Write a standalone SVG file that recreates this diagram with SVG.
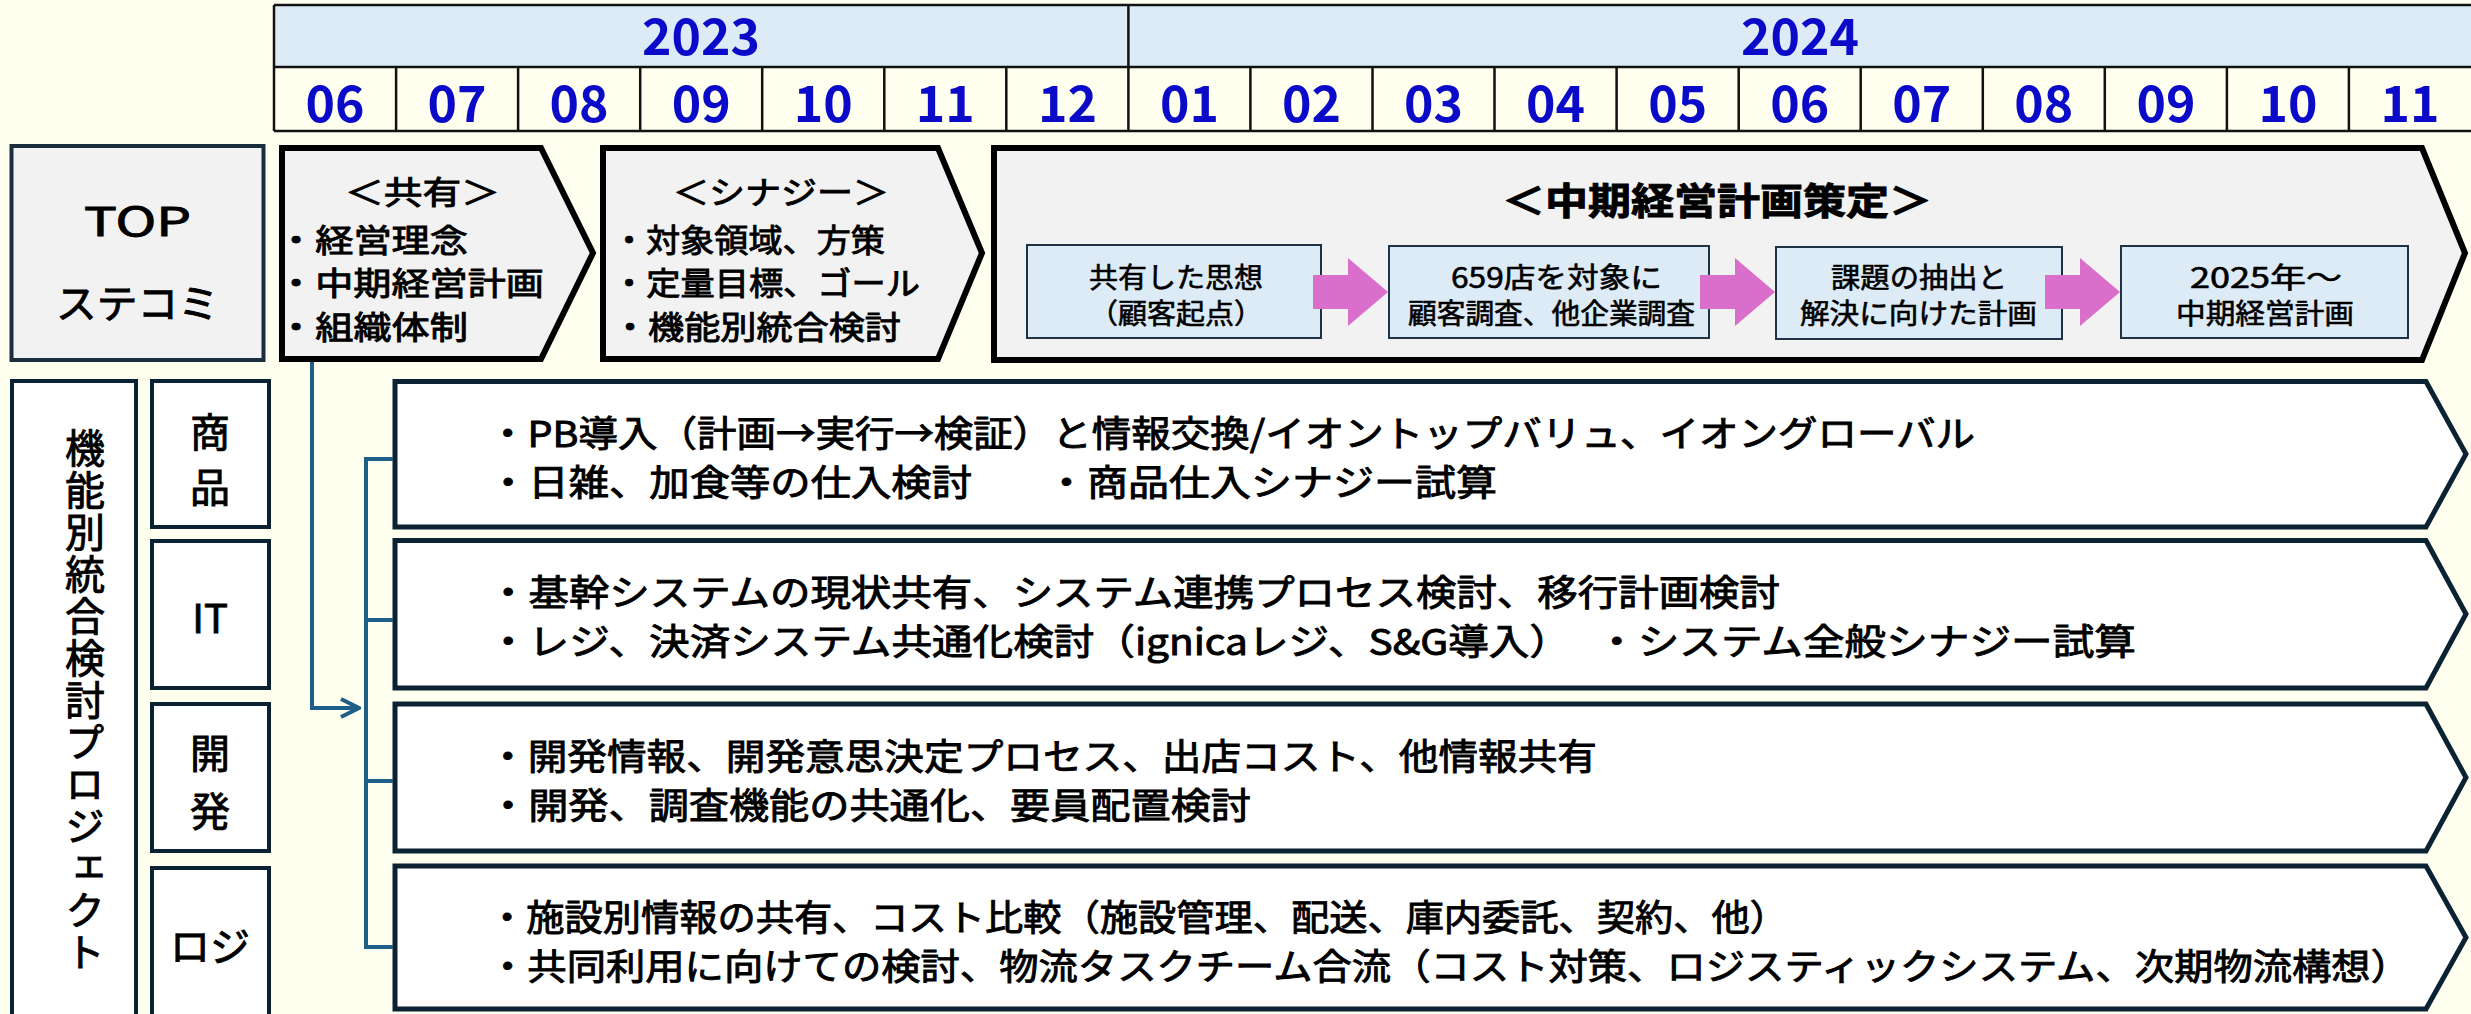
<svg xmlns="http://www.w3.org/2000/svg" width="2471" height="1014" viewBox="0 0 2471 1014">
<style>
text{font-family:"Noto Sans CJK JP","Noto Sans",sans-serif;fill:#000;stroke:#000;stroke-width:0.9px}
.hd{font-size:50px;font-weight:700;fill:#0A0AC8;stroke:none;text-anchor:middle}
.hline{stroke:#111;stroke-width:2.5;fill:none}
.chevT{fill:#F2F2F2;stroke:#000;stroke-width:6;stroke-linejoin:miter}
.chevR{fill:#FFFFFF;stroke:#0B2233;stroke-width:5;stroke-linejoin:miter}
.inbox{fill:#DDEBF7;stroke:#1F3347;stroke-width:2}
.pk{fill:#D96FCB}
.fbox{fill:#FFFFFF;stroke:#0B2233;stroke-width:4}
.t32{font-size:32px}
.t28{font-size:28px;stroke-width:0.6px}
.t36{font-size:36px}
.t40{font-size:40px;text-anchor:middle}
.conn{fill:none;stroke:#1F5F87;stroke-width:4}
</style>
<defs>
<marker id="open" viewBox="0 0 22 22" refX="20" refY="11" markerWidth="22" markerHeight="22" markerUnits="userSpaceOnUse" orient="auto">
<path d="M2,2 L20,11 L2,20" fill="none" stroke="#1F5F87" stroke-width="4"/>
</marker>
</defs>
<rect x="0" y="0" width="2471" height="1014" fill="#FFFFF0"/>

<g id="header">
<rect x="274" y="5" width="2200" height="62" fill="#DDEBF7"/>
<rect x="274" y="67" width="2200" height="64" fill="#FFFFF0"/>
<path class="hline" d="M274,5 H2474 M274,67 H2474 M274,131 H2474 M274,5 V131 M1128.4,5 V131"/>
<path class="hline" d="M396.1,67 V131 M518.1,67 V131 M640.2,67 V131 M762.2,67 V131 M884.3,67 V131 M1006.3,67 V131 M1250.4,67 V131 M1372.5,67 V131 M1494.5,67 V131 M1616.6,67 V131 M1738.7,67 V131 M1860.7,67 V131 M1982.8,67 V131 M2104.8,67 V131 M2226.9,67 V131 M2348.9,67 V131"/>
<text class="hd" x="701" y="55">2023</text>
<text class="hd" x="1800" y="55">2024</text>
<text class="hd" x="335" y="122">06</text>
<text class="hd" x="457.1" y="122">07</text>
<text class="hd" x="579.1" y="122">08</text>
<text class="hd" x="701.2" y="122">09</text>
<text class="hd" x="823.3" y="122">10</text>
<text class="hd" x="945.3" y="122">11</text>
<text class="hd" x="1067.4" y="122">12</text>
<text class="hd" x="1189.4" y="122">01</text>
<text class="hd" x="1311.5" y="122">02</text>
<text class="hd" x="1433.6" y="122">03</text>
<text class="hd" x="1555.6" y="122">04</text>
<text class="hd" x="1677.7" y="122">05</text>
<text class="hd" x="1799.7" y="122">06</text>
<text class="hd" x="1921.8" y="122">07</text>
<text class="hd" x="2043.8" y="122">08</text>
<text class="hd" x="2165.9" y="122">09</text>
<text class="hd" x="2288" y="122">10</text>
<text class="hd" x="2410" y="122">11</text>
</g>

<g id="top-label">
<rect x="11.5" y="146" width="252" height="214" fill="#F2F2F2" stroke="#1A2E3F" stroke-width="4"/>
<text x="84" y="236" font-size="40" textLength="107" lengthAdjust="spacingAndGlyphs">TOP</text>
<text x="56" y="318" font-size="40" textLength="163" lengthAdjust="spacingAndGlyphs">ステコミ</text>
</g>

<g id="chev-share">
<path class="chevT" d="M282,148 H541 L593,253 L541,359 H282 Z"/>
<text class="t32" x="345" y="204" textLength="155" lengthAdjust="spacingAndGlyphs">＜共有＞</text>
<text class="t32" x="277" y="252" textLength="191" lengthAdjust="spacingAndGlyphs">・経営理念</text>
<text class="t32" x="277" y="295" textLength="267" lengthAdjust="spacingAndGlyphs">・中期経営計画</text>
<text class="t32" x="277" y="339" textLength="191" lengthAdjust="spacingAndGlyphs">・組織体制</text>
</g>

<g id="chev-synergy">
<path class="chevT" d="M603,148 H938 L982,253 L938,359 H603 Z"/>
<text class="t32" x="673" y="204" textLength="216" lengthAdjust="spacingAndGlyphs">＜シナジー＞</text>
<text class="t32" x="612" y="252" textLength="273" lengthAdjust="spacingAndGlyphs">・対象領域、方策</text>
<text class="t32" x="612" y="295" textLength="308" lengthAdjust="spacingAndGlyphs">・定量目標、ゴール</text>
<text class="t32" x="612" y="339" textLength="289" lengthAdjust="spacingAndGlyphs">・機能別統合検討</text>
</g>

<g id="chev-plan">
<path class="chevT" d="M994,148 H2422 L2465,253 L2422,360 H994 Z"/>
<text x="1502" y="215" font-size="37" font-weight="700" textLength="430" lengthAdjust="spacingAndGlyphs">＜中期経営計画策定＞</text>
</g>

<g id="step-a">
<rect class="inbox" x="1027" y="245" width="294" height="93"/>
<text class="t28" x="1089" y="288" textLength="174" lengthAdjust="spacingAndGlyphs">共有した思想</text>
<text class="t28" x="1089" y="324" textLength="174" lengthAdjust="spacingAndGlyphs">（顧客起点）</text>
</g>
<g id="step-b">
<rect class="inbox" x="1389" y="246" width="320" height="92"/>
<text class="t28" x="1451" y="288" textLength="211" lengthAdjust="spacingAndGlyphs">659店を対象に</text>
<text class="t28" x="1408" y="324" textLength="287" lengthAdjust="spacingAndGlyphs">顧客調査、他企業調査</text>
</g>
<g id="step-c">
<rect class="inbox" x="1776" y="247" width="286" height="92"/>
<text class="t28" x="1831" y="288" textLength="176" lengthAdjust="spacingAndGlyphs">課題の抽出と</text>
<text class="t28" x="1800" y="324" textLength="237" lengthAdjust="spacingAndGlyphs">解決に向けた計画</text>
</g>
<g id="step-d">
<rect class="inbox" x="2121" y="246" width="287" height="92"/>
<text class="t28" x="2190" y="288" textLength="152" lengthAdjust="spacingAndGlyphs">2025年～</text>
<text class="t28" x="2176" y="324" textLength="178" lengthAdjust="spacingAndGlyphs">中期経営計画</text>
</g>
<g id="step-arrows">
<path class="pk" d="M1313,275 H1348 V258 L1388,292 L1348,326 V309 H1313 Z"/>
<path class="pk" d="M1700,275 H1735 V258 L1775,292 L1735,326 V309 H1700 Z"/>
<path class="pk" d="M2045,275 H2080 V258 L2120,292 L2080,326 V309 H2045 Z"/>
</g>

<g id="func-label">
<rect class="fbox" x="12" y="381" width="124" height="660"/>
<text x="85" y="428" font-size="40" writing-mode="vertical-rl" letter-spacing="2">機能別統合検討プロジェクト</text>
</g>
<g id="f-shohin">
<rect class="fbox" x="152" y="381" width="117" height="146"/>
<text class="t40" x="210" y="447">商</text>
<text class="t40" x="210" y="502">品</text>
</g>
<g id="f-it">
<rect class="fbox" x="152" y="541" width="117" height="147"/>
<text class="t40" x="210" y="633" font-size="46">IT</text>
</g>
<g id="f-kaihatsu">
<rect class="fbox" x="152" y="704" width="117" height="147"/>
<text class="t40" x="210" y="768">開</text>
<text class="t40" x="210" y="826">発</text>
</g>
<g id="f-logi">
<rect class="fbox" x="152" y="868" width="117" height="170"/>
<text class="t40" x="210" y="961">ロジ</text>
</g>

<g id="row-shohin">
<path class="chevR" d="M395,381.5 H2426 L2466,454 L2426,527 H395 Z"/>
<text class="t36" x="488" y="447" textLength="1487" lengthAdjust="spacingAndGlyphs">・PB導入（計画→実行→検証）と情報交換/イオントップバリュ、イオングローバル</text>
<text class="t36" x="488" y="496" textLength="484" lengthAdjust="spacingAndGlyphs">・日雑、加食等の仕入検討</text>
<text class="t36" x="1046" y="496" textLength="451" lengthAdjust="spacingAndGlyphs">・商品仕入シナジー試算</text>
</g>
<g id="row-it">
<path class="chevR" d="M395,540.5 H2426 L2466,614 L2426,688 H395 Z"/>
<text class="t36" x="488" y="606" textLength="1292" lengthAdjust="spacingAndGlyphs">・基幹システムの現状共有、システム連携プロセス検討、移行計画検討</text>
<text class="t36" x="488" y="655" textLength="1082" lengthAdjust="spacingAndGlyphs">・レジ、決済システム共通化検討（ignicaレジ、S&amp;G導入）</text>
<text class="t36" x="1596" y="655" textLength="540" lengthAdjust="spacingAndGlyphs">・システム全般シナジー試算</text>
</g>
<g id="row-kaihatsu">
<path class="chevR" d="M395,704 H2426 L2466,777.5 L2426,851 H395 Z"/>
<text class="t36" x="488" y="770" textLength="1109" lengthAdjust="spacingAndGlyphs">・開発情報、開発意思決定プロセス、出店コスト、他情報共有</text>
<text class="t36" x="488" y="819" textLength="763" lengthAdjust="spacingAndGlyphs">・開発、調査機能の共通化、要員配置検討</text>
</g>
<g id="row-logi">
<path class="chevR" d="M395,866 H2426 L2466,937.5 L2426,1009 H395 Z"/>
<text class="t36" x="488" y="931" textLength="1300" lengthAdjust="spacingAndGlyphs">・施設別情報の共有、コスト比較（施設管理、配送、庫内委託、契約、他）</text>
<text class="t36" x="488" y="980" textLength="1922" lengthAdjust="spacingAndGlyphs">・共同利用に向けての検討、物流タスクチーム合流（コスト対策、ロジスティックシステム、次期物流構想）</text>
</g>

<g id="connectors">
<path class="conn" d="M312,362 V708 H359" marker-end="url(#open)"/>
<path class="conn" d="M393,459 H366 V947 H393 M366,620 H393 M366,781 H393"/>
</g>
</svg>
